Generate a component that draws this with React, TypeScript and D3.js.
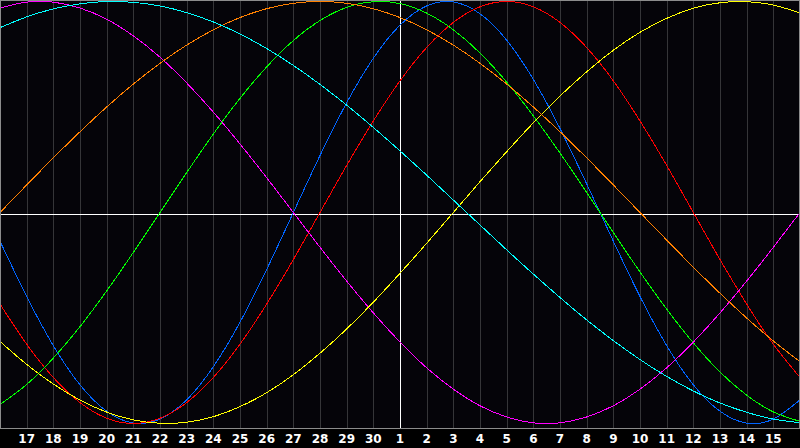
import React from "react";
import * as d3 from "d3";

// Day labels for each column (index 0 = left edge, index 30 = right edge)
const dayLabels: number[] = [
  16, 17, 18, 19, 20, 21, 22, 23, 24, 25, 26, 27, 28, 29, 30,
  1, 2, 3, 4, 5, 6, 7, 8, 9, 10, 11, 12, 13, 14, 15, 16,
];

// Daily values (-1..1), one per day column
const physical: number[] = [
  -0.136, -0.398, -0.631, -0.817, -0.942, -0.998, -0.979, -0.888, -0.731, -0.52, -0.27,
  0, 0.27, 0.52, 0.731, 0.888, 0.979, 0.998, 0.942, 0.817, 0.631, 0.398, 0.136,
  -0.136, -0.398, -0.631, -0.817, -0.942, -0.998, -0.979, -0.888,
];
const emotional: number[] = [
  -0.434, -0.624, -0.782, -0.901, -0.975, -1, -0.975, -0.901, -0.782, -0.624, -0.434,
  -0.223, 0, 0.223, 0.434, 0.624, 0.782, 0.901, 0.975, 1, 0.975, 0.901, 0.782, 0.624,
  0.434, 0.223, 0, -0.223, -0.434, -0.624, -0.782,
];
const intellectual: number[] = [
  -0.91, -0.815, -0.69, -0.541, -0.372, -0.189, 0, 0.189, 0.372, 0.541, 0.69, 0.815,
  0.91, 0.972, 0.999, 0.99, 0.945, 0.866, 0.756, 0.618, 0.458, 0.282, 0.095, -0.095,
  -0.282, -0.458, -0.618, -0.756, -0.866, -0.945, -0.99,
];
const intuitive: number[] = [
  0.969, 0.997, 0.997, 0.969, 0.916, 0.837, 0.736, 0.614, 0.476, 0.325, 0.165, 0,
  -0.165, -0.325, -0.476, -0.614, -0.736, -0.837, -0.916, -0.969, -0.997, -0.997,
  -0.969, -0.916, -0.837, -0.736, -0.614, -0.476, -0.325, -0.165, 0,
];
const aesthetic: number[] = [
  -0.611, -0.72, -0.813, -0.889, -0.946, -0.983, -0.999, -0.994, -0.968, -0.92,
  -0.854, -0.769, -0.667, -0.552, -0.425, -0.288, -0.146, 0, 0.146, 0.288, 0.425,
  0.552, 0.667, 0.769, 0.854, 0.92, 0.968, 0.994, 0.999, 0.983, 0.946,
];
const awareness: number[] = [
  0, 0.1305, 0.2588, 0.3827, 0.5, 0.6088, 0.7071, 0.7934, 0.866, 0.9239, 0.9659,
  0.9914, 1, 0.9914, 0.9659, 0.9239, 0.866, 0.7934, 0.7071, 0.6088, 0.5, 0.3827,
  0.2588, 0.1305, 0, -0.1305, -0.2588, -0.3827, -0.5, -0.6088, -0.7071,
];
const spiritual: number[] = [
  0.876, 0.927, 0.965, 0.989, 1, 0.996, 0.979, 0.947, 0.903, 0.846, 0.777, 0.697,
  0.607, 0.509, 0.403, 0.292, 0.177, 0.059, -0.059, -0.177, -0.292, -0.403, -0.509,
  -0.607, -0.697, -0.777, -0.846, -0.903, -0.947, -0.979, -0.996,
];

const seriesList = [
  { name: "physical", values: physical, color: "#0064ff" },
  { name: "emotional", values: emotional, color: "#ff0000" },
  { name: "intellectual", values: intellectual, color: "#00ff00" },
  { name: "intuitive", values: intuitive, color: "#ff00ff" },
  { name: "aesthetic", values: aesthetic, color: "#ffff00" },
  { name: "awareness", values: awareness, color: "#ff8000" },
  { name: "spiritual", values: spiritual, color: "#00ffff" },
];

const W = 800;
const H = 448;
const PLOT_H = 428;

export default function App() {
  const x = d3.scaleLinear().domain([0, dayLabels.length - 1]).range([0, W]);
  const y = d3.scaleLinear().domain([-1, 1]).range([423.5, 1.5]);
  const line = d3
    .line<number>()
    .x((_, i) => x(i))
    .y((v) => y(v))
    .curve(d3.curveNatural);

  const centerIdx = dayLabels.indexOf(1);
  const ticks = d3.range(1, dayLabels.length - 1);

  return (
    <div style={{ position: "fixed", left: 0, top: 0, width: W, height: H }}>
      <svg width={W} height={H} style={{ display: "block", background: "#000" }}>
        <rect x={0} y={0} width={W} height={PLOT_H} fill="#050409" />
        {ticks.map((i) => (
          <line
            key={"g" + i}
            x1={Math.round(x(i)) + 0.5}
            x2={Math.round(x(i)) + 0.5}
            y1={0}
            y2={PLOT_H}
            stroke="#353538"
            strokeWidth={1}
            shapeRendering="crispEdges"
          />
        ))}
        <line
          x1={0}
          x2={W}
          y1={PLOT_H / 2 + 0.5}
          y2={PLOT_H / 2 + 0.5}
          stroke="#ffffff"
          strokeWidth={1}
          shapeRendering="crispEdges"
        />
        <line
          x1={Math.round(x(centerIdx)) + 0.5}
          x2={Math.round(x(centerIdx)) + 0.5}
          y1={0}
          y2={PLOT_H}
          stroke="#ffffff"
          strokeWidth={1}
          shapeRendering="crispEdges"
        />
        {seriesList.map((s) => (
          <path
            key={s.name}
            d={line(s.values) || ""}
            fill="none"
            stroke={s.color}
            strokeWidth={1}
            shapeRendering="crispEdges"
          />
        ))}
        <rect
          x={0.5}
          y={0.5}
          width={W - 1}
          height={PLOT_H}
          fill="none"
          stroke="#8c8c8c"
          strokeWidth={1}
          shapeRendering="crispEdges"
        />
        {ticks.map((i) => (
          <text
            key={"t" + i}
            x={x(i)}
            y={443}
            fill="#ffffff"
            fontFamily="DejaVu Sans, sans-serif"
            fontWeight="bold"
            fontSize={12}
            textAnchor="middle"
          >
            {dayLabels[i]}
          </text>
        ))}
      </svg>
    </div>
  );
}
